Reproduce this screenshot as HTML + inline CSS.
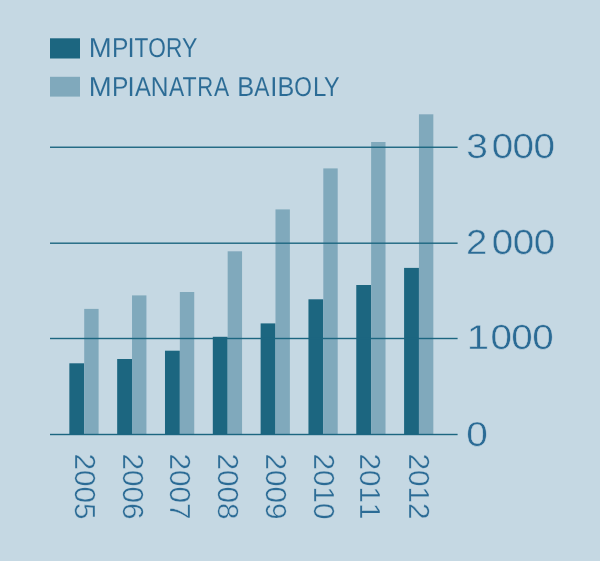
<!DOCTYPE html>
<html><head><meta charset="utf-8"><title>Mpitory sy mpianatra Baiboly 2005-2012</title><style>
html,body{margin:0;padding:0;background:#c5d8e3;}
body{width:600px;height:561px;overflow:hidden;position:relative;}
svg{position:absolute;left:0;top:0;font-family:"Liberation Sans",sans-serif;}
svg text{text-rendering:geometricPrecision;font-kerning:none;font-feature-settings:"kern" 0;}
</style></head><body>
<svg width="600" height="561" viewBox="0 0 600 561">
<defs><filter id="sh" x="0" y="0" width="600" height="561" filterUnits="userSpaceOnUse" color-interpolation-filters="sRGB">
<feGaussianBlur in="SourceGraphic" stdDeviation="0.7" result="b"/>
<feComposite in="SourceGraphic" in2="b" operator="arithmetic" k1="0" k2="1.4" k3="-0.4" k4="0"/>
</filter></defs>
<g filter="url(#sh)">
<rect x="0" y="0" width="600" height="561" fill="#c5d8e3"/>
<rect x="50" y="38.3" width="30" height="20.2" fill="#1c6680"/>
<rect x="50" y="76.8" width="30" height="19.8" fill="#80a9bc"/>
<rect x="69.35" y="363.3" width="14.85" height="71.20" fill="#1c6680"/>
<rect x="84.20" y="308.9" width="14.4" height="125.60" fill="#80a9bc"/>
<rect x="117.17" y="359" width="14.85" height="75.50" fill="#1c6680"/>
<rect x="132.02" y="295.4" width="14.4" height="139.10" fill="#80a9bc"/>
<rect x="164.99" y="350.7" width="14.85" height="83.80" fill="#1c6680"/>
<rect x="179.84" y="292" width="14.4" height="142.50" fill="#80a9bc"/>
<rect x="212.81" y="336.8" width="14.85" height="97.70" fill="#1c6680"/>
<rect x="227.66" y="251.3" width="14.4" height="183.20" fill="#80a9bc"/>
<rect x="260.63" y="323.4" width="14.85" height="111.10" fill="#1c6680"/>
<rect x="275.48" y="209.4" width="14.4" height="225.10" fill="#80a9bc"/>
<rect x="308.45" y="299.3" width="14.85" height="135.20" fill="#1c6680"/>
<rect x="323.30" y="168.4" width="14.4" height="266.10" fill="#80a9bc"/>
<rect x="356.27" y="285" width="14.85" height="149.50" fill="#1c6680"/>
<rect x="371.12" y="142" width="14.4" height="292.50" fill="#80a9bc"/>
<rect x="404.09" y="267.9" width="14.85" height="166.60" fill="#1c6680"/>
<rect x="418.94" y="114.3" width="14.4" height="320.20" fill="#80a9bc"/>
<rect x="50" y="146.55" width="407.6" height="1.4" fill="#1c6680"/>
<rect x="50" y="242.50" width="407.6" height="1.4" fill="#1c6680"/>
<rect x="50" y="337.80" width="407.6" height="1.4" fill="#1c6680"/>
<rect x="50" y="433.80" width="407.6" height="1.4" fill="#1c6680"/>
<g fill="#2b6b95">
<text y="57.15" font-size="27.326" stroke="#c5d8e3" stroke-width="0.100"><tspan x="88.69" textLength="22.91" lengthAdjust="spacingAndGlyphs">M</tspan><tspan x="111.93" textLength="16.42" lengthAdjust="spacingAndGlyphs">P</tspan><tspan x="127.58" textLength="7.15" lengthAdjust="spacingAndGlyphs">I</tspan><tspan x="134.44" textLength="13.83" lengthAdjust="spacingAndGlyphs">T</tspan><tspan x="148.17" textLength="17.66" lengthAdjust="spacingAndGlyphs">O</tspan><tspan x="166.10" textLength="16.30" lengthAdjust="spacingAndGlyphs">R</tspan><tspan x="181.94" textLength="15.42" lengthAdjust="spacingAndGlyphs">Y</tspan></text>
<text y="95.85" font-size="27.326" stroke="#c5d8e3" stroke-width="0.100"><tspan x="88.69" textLength="22.91" lengthAdjust="spacingAndGlyphs">M</tspan><tspan x="111.93" textLength="16.42" lengthAdjust="spacingAndGlyphs">P</tspan><tspan x="127.58" textLength="7.15" lengthAdjust="spacingAndGlyphs">I</tspan><tspan x="134.90" textLength="15.89" lengthAdjust="spacingAndGlyphs">A</tspan><tspan x="150.64" textLength="17.71" lengthAdjust="spacingAndGlyphs">N</tspan><tspan x="168.91" textLength="15.19" lengthAdjust="spacingAndGlyphs">A</tspan><tspan x="182.43" textLength="14.15" lengthAdjust="spacingAndGlyphs">T</tspan><tspan x="197.14" textLength="15.93" lengthAdjust="spacingAndGlyphs">R</tspan><tspan x="213.91" textLength="15.19" lengthAdjust="spacingAndGlyphs">A</tspan> <tspan x="237.17" textLength="16.92" lengthAdjust="spacingAndGlyphs">B</tspan><tspan x="254.21" textLength="15.19" lengthAdjust="spacingAndGlyphs">A</tspan><tspan x="270.28" textLength="7.15" lengthAdjust="spacingAndGlyphs">I</tspan><tspan x="277.58" textLength="16.79" lengthAdjust="spacingAndGlyphs">B</tspan><tspan x="294.17" textLength="17.66" lengthAdjust="spacingAndGlyphs">O</tspan><tspan x="312.98" textLength="13.37" lengthAdjust="spacingAndGlyphs">L</tspan><tspan x="323.94" textLength="15.63" lengthAdjust="spacingAndGlyphs">Y</tspan></text>
<text y="157.82" font-size="34.812" stroke="#c5d8e3" stroke-width="0.450"><tspan x="466.39" textLength="21.64" lengthAdjust="spacingAndGlyphs">3</tspan> <tspan x="491.67" textLength="21.47" lengthAdjust="spacingAndGlyphs">0</tspan><tspan x="512.62" textLength="21.47" lengthAdjust="spacingAndGlyphs">0</tspan><tspan x="533.57" textLength="21.47" lengthAdjust="spacingAndGlyphs">0</tspan></text>
<text y="254.03" font-size="34.594" stroke="#c5d8e3" stroke-width="0.450"><tspan x="465.95" textLength="21.30" lengthAdjust="spacingAndGlyphs">2</tspan> <tspan x="491.67" textLength="21.47" lengthAdjust="spacingAndGlyphs">0</tspan><tspan x="512.67" textLength="21.47" lengthAdjust="spacingAndGlyphs">0</tspan><tspan x="533.67" textLength="21.47" lengthAdjust="spacingAndGlyphs">0</tspan></text>
<text y="349.03" font-size="34.666" stroke="#c5d8e3" stroke-width="0.450"><tspan x="466.71" textLength="22.38" lengthAdjust="spacingAndGlyphs">1</tspan> <tspan x="490.47" textLength="21.47" lengthAdjust="spacingAndGlyphs">0</tspan><tspan x="511.37" textLength="21.47" lengthAdjust="spacingAndGlyphs">0</tspan><tspan x="532.27" textLength="21.47" lengthAdjust="spacingAndGlyphs">0</tspan></text>
<text y="445.73" font-size="34.521" stroke="#c5d8e3" stroke-width="0.450"><tspan x="466.26" textLength="21.58" lengthAdjust="spacingAndGlyphs">0</tspan></text>
<text transform="translate(74.900,453.376) rotate(90) scale(1.02157,1)" x="0" y="0" font-size="29.073" stroke="#c5d8e3" stroke-width="0.400">2005</text>
<text transform="translate(123.100,453.376) rotate(90) scale(1.02157,1)" x="0" y="0" font-size="29.073" stroke="#c5d8e3" stroke-width="0.400">2006</text>
<text transform="translate(169.900,453.376) rotate(90) scale(1.02157,1)" x="0" y="0" font-size="29.073" stroke="#c5d8e3" stroke-width="0.400">2007</text>
<text transform="translate(217.500,453.376) rotate(90) scale(1.02157,1)" x="0" y="0" font-size="29.073" stroke="#c5d8e3" stroke-width="0.400">2008</text>
<text transform="translate(265.800,453.376) rotate(90) scale(1.02157,1)" x="0" y="0" font-size="29.073" stroke="#c5d8e3" stroke-width="0.400">2009</text>
<text transform="translate(313.800,453.376) rotate(90) scale(1.02157,1)" x="0" y="0" font-size="29.073" stroke="#c5d8e3" stroke-width="0.400">2010</text>
<text transform="translate(360.400,453.376) rotate(90) scale(1.02157,1)" x="0" y="0" font-size="29.073" stroke="#c5d8e3" stroke-width="0.400">2011</text>
<text transform="translate(408.800,453.376) rotate(90) scale(1.02157,1)" x="0" y="0" font-size="29.073" stroke="#c5d8e3" stroke-width="0.400">2012</text>
</g>
</g>
</svg>
</body></html>
